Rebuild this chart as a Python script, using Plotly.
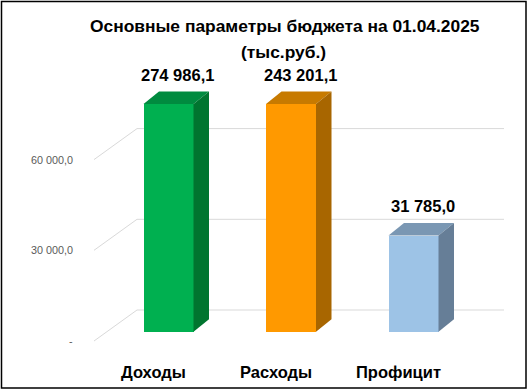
import plotly.graph_objects as go

# ---- data ----
categories = ["Доходы", "Расходы", "Профицит"]
values = [274986.1, 243201.1, 31785.0]
value_labels = ["274 986,1", "243 201,1", "31 785,0"]
tick_values = [0, 30000, 60000]
tick_labels = ["-", "30 000,0", "60 000,0"]
title_lines = ["Основные параметры бюджета на 01.04.2025", "(тыс.руб.)"]

front_colors = ["#00B050", "#FF9900", "#9DC3E6"]
top_colors = ["#008B3F", "#C77A00", "#7A97B3"]
side_colors = ["#00752F", "#A86600", "#667E97"]

# ---- geometry (layout) ----
W, H = 528, 390
X_UNIT = 122.5            # px per category
X_FIRST = 168.5           # px of first bar front centre
Y_PER_PX = 30000 / 90.7   # value units per px
Y_ZERO_PX = 341           # px row of value 0 on the front (tick) plane
AXIS_CAP = 75300          # bars are clipped at the top of the value axis

def dx(px):
    return px / X_UNIT

def dy(px):
    return px * Y_PER_PX

x_range = [-X_FIRST / X_UNIT, (W - X_FIRST) / X_UNIT]
y_range = [-(H - Y_ZERO_PX) * Y_PER_PX, Y_ZERO_PX * Y_PER_PX]

bar_w = dx(50)
bar_base = dy(9.3)        # bar front plane sits behind the tick plane
bar_shift_x = dx(12.9)
depth_dx, depth_dy = dx(15.5), dy(12.5)
wall_dx, wall_dy = dx(43), dy(31)
wall_right = dx(504 - X_FIRST)
tick_plane_left = dx(94 - X_FIRST)

fig = go.Figure()

grid_color = "#D9D9D9"
shapes = []
for t in tick_values:
    # diagonal side line and back-wall line, drawn beneath the bars
    p0 = (tick_plane_left, t)
    p1 = (tick_plane_left + wall_dx, t + wall_dy)
    p2 = (wall_right, t + wall_dy)
    shapes.append(dict(type="path", xref="x", yref="y", layer="below",
                       path=f"M {p0[0]},{p0[1]} L {p1[0]},{p1[1]} L {p2[0]},{p2[1]}",
                       line=dict(color=grid_color, width=1)))

xs_idx = list(range(len(categories)))
shown = [min(v, AXIS_CAP) for v in values]

fig.add_trace(go.Bar(x=xs_idx, y=shown, base=bar_base, width=bar_w,
                     marker=dict(color=front_colors, line=dict(width=0)),
                     hoverinfo="skip", showlegend=False))

for i, h in zip(xs_idx, shown):
    top = bar_base + h
    l, r = i - bar_w / 2, i + bar_w / 2
    fig.add_trace(go.Scatter(
        x=[l, r, r + depth_dx, l + depth_dx, l],
        y=[top, top, top + depth_dy, top + depth_dy, top],
        fill="toself", fillcolor=top_colors[i], mode="none",
        hoverinfo="skip", showlegend=False))
    fig.add_trace(go.Scatter(
        x=[r, r + depth_dx, r + depth_dx, r, r],
        y=[bar_base, bar_base + depth_dy, top + depth_dy, top, bar_base],
        fill="toself", fillcolor=side_colors[i], mode="none",
        hoverinfo="skip", showlegend=False))

annotations = []
# value labels
for i, h, lab in zip(xs_idx, shown, value_labels):
    annotations.append(dict(x=i + dx(9), y=bar_base + h + depth_dy, text=lab,
                            xref="x", yref="y", showarrow=False,
                            yanchor="bottom", yshift=6,
                            font=dict(family="Liberation Sans", size=16.5,
                                      color="#000000", weight="bold")))
# category labels
for i, c in zip(xs_idx, categories):
    annotations.append(dict(x=i - bar_shift_x - dx(2.5), y=dy(-31), text=c,
                            xref="x", yref="y", showarrow=False,
                            yanchor="middle",
                            font=dict(family="Liberation Sans", size=16.5,
                                      color="#000000", weight="bold")))
# value axis tick labels
for t, lab in zip(tick_values, tick_labels):
    annotations.append(dict(x=dx(75 - X_FIRST), y=t, text=lab,
                            xref="x", yref="y", showarrow=False,
                            xanchor="right", yanchor="middle",
                            font=dict(family="Liberation Sans", size=10.8,
                                      color="#595959")))
# title
for line, px_x, px_y in zip(title_lines, [285, 283], [25.7, 51.7]):
    annotations.append(dict(x=px_x / W, y=1 - px_y / H, text=line,
                            xref="paper", yref="paper", showarrow=False,
                            xanchor="center", yanchor="middle",
                            font=dict(family="Liberation Sans", size=17.4,
                                      color="#000000", weight="bold")))

shapes.append(dict(type="rect", xref="paper", yref="paper",
                   x0=1.5 / W, x1=526 / W, y0=1 - 388 / H, y1=1 - 1.5 / H,
                   line=dict(color="#000000", width=1.5)))

fig.update_layout(
    width=W, height=H, autosize=False,
    margin=dict(l=0, r=0, t=0, b=0, pad=0),
    paper_bgcolor="white", plot_bgcolor="white",
    xaxis=dict(range=x_range, visible=False, fixedrange=True),
    yaxis=dict(range=y_range, visible=False, fixedrange=True),
    annotations=annotations,
    shapes=shapes,
    bargap=0,
)

fig.write_html("out.html", config={"displayModeBar": False},
               post_script="document.body.style.margin='0';"
                           "document.body.style.overflow='hidden';")
